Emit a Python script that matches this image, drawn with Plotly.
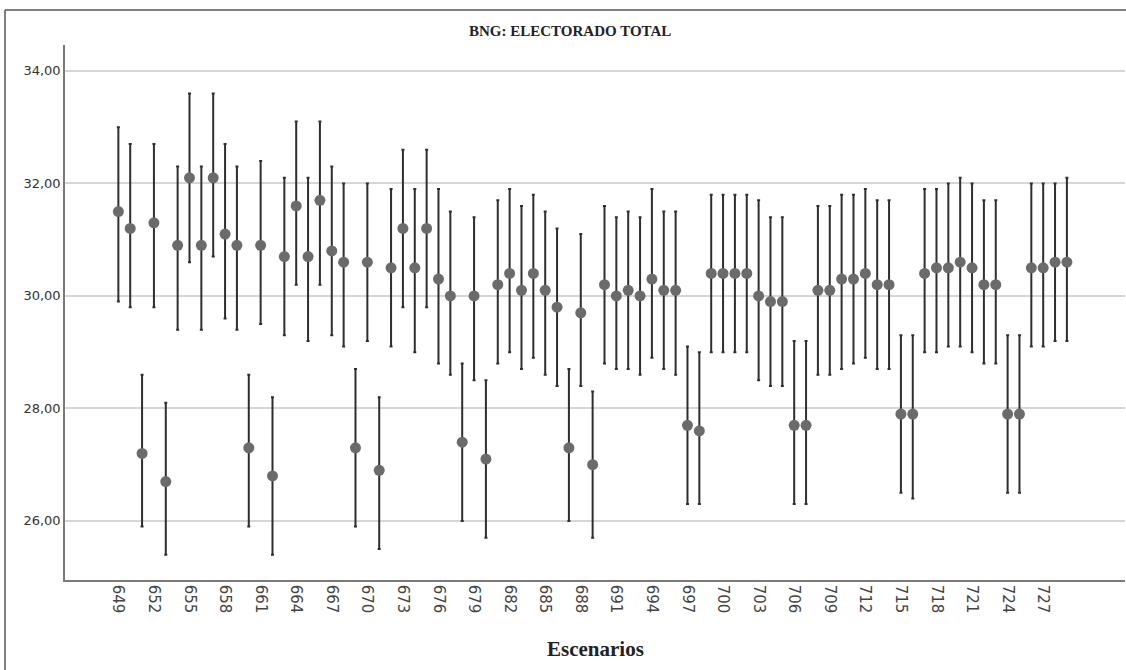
import plotly.graph_objects as go

scenarios = [649, 650, 651, 652, 653, 654, 655, 656, 657, 658,
             659, 660, 661, 662, 663, 664, 665, 666, 667, 668,
             669, 670, 671, 672, 673, 674, 675, 676, 677, 678,
             679, 680, 681, 682, 683, 684, 685, 686, 687, 688,
             689, 690, 691, 692, 693, 694, 695, 696, 697, 698,
             699, 700, 701, 702, 703, 704, 705, 706, 707, 708,
             709, 710, 711, 712, 713, 714, 715, 716, 717, 718,
             719, 720, 721, 722, 723, 724, 725, 726, 727, 728, 729]

mean = [31.5, 31.2, 27.2, 31.3, 26.7, 30.9, 32.1, 30.9, 32.1, 31.1,
        30.9, 27.3, 30.9, 26.8, 30.7, 31.6, 30.7, 31.7, 30.8, 30.6,
        27.3, 30.6, 26.9, 30.5, 31.2, 30.5, 31.2, 30.3, 30.0, 27.4,
        30.0, 27.1, 30.2, 30.4, 30.1, 30.4, 30.1, 29.8, 27.3, 29.7,
        27.0, 30.2, 30.0, 30.1, 30.0, 30.3, 30.1, 30.1, 27.7, 27.6,
        30.4, 30.4, 30.4, 30.4, 30.0, 29.9, 29.9, 27.7, 27.7, 30.1,
        30.1, 30.3, 30.3, 30.4, 30.2, 30.2, 27.9, 27.9, 30.4, 30.5,
        30.5, 30.6, 30.5, 30.2, 30.2, 27.9, 27.9, 30.5, 30.5, 30.6, 30.6]

upper = [33.0, 32.7, 28.6, 32.7, 28.1, 32.3, 33.6, 32.3, 33.6, 32.7,
         32.3, 28.6, 32.4, 28.2, 32.1, 33.1, 32.1, 33.1, 32.3, 32.0,
         28.7, 32.0, 28.2, 31.9, 32.6, 31.9, 32.6, 31.9, 31.5, 28.8,
         31.4, 28.5, 31.7, 31.9, 31.6, 31.8, 31.5, 31.2, 28.7, 31.1,
         28.3, 31.6, 31.4, 31.5, 31.4, 31.9, 31.5, 31.5, 29.1, 29.0,
         31.8, 31.8, 31.8, 31.8, 31.7, 31.4, 31.4, 29.2, 29.2, 31.6,
         31.6, 31.8, 31.8, 31.9, 31.7, 31.7, 29.3, 29.3, 31.9, 31.9,
         32.0, 32.1, 32.0, 31.7, 31.7, 29.3, 29.3, 32.0, 32.0, 32.0, 32.1]

lower = [29.9, 29.8, 25.9, 29.8, 25.4, 29.4, 30.6, 29.4, 30.7, 29.6,
         29.4, 25.9, 29.5, 25.4, 29.3, 30.2, 29.2, 30.2, 29.3, 29.1,
         25.9, 29.2, 25.5, 29.1, 29.8, 29.0, 29.8, 28.8, 28.6, 26.0,
         28.5, 25.7, 28.8, 29.0, 28.7, 28.9, 28.6, 28.4, 26.0, 28.4,
         25.7, 28.8, 28.7, 28.7, 28.6, 28.9, 28.7, 28.6, 26.3, 26.3,
         29.0, 29.0, 29.0, 29.0, 28.5, 28.4, 28.4, 26.3, 26.3, 28.6,
         28.6, 28.7, 28.8, 28.9, 28.7, 28.7, 26.5, 26.4, 29.0, 29.0,
         29.1, 29.1, 29.0, 28.8, 28.8, 26.5, 26.5, 29.1, 29.1, 29.2, 29.2]

x_tick_vals = [649, 652, 655, 658, 661, 664, 667, 670, 673, 676, 679, 682, 685,
               688, 691, 694, 697, 700, 703, 706, 709, 712, 715, 718, 721, 724, 727]
y_tick_vals = [26, 28, 30, 32, 34]
y_tick_text = ["26,00", "28,00", "30,00", "32,00", "34,00"]

err_plus = [u - m for u, m in zip(upper, mean)]
err_minus = [m - l for m, l in zip(mean, lower)]

fig = go.Figure()
fig.add_trace(go.Scatter(
    x=scenarios, y=mean, mode="markers",
    marker=dict(size=11, color="#6b6b6e", line=dict(width=0)),
    error_y=dict(type="data", symmetric=False, array=err_plus, arrayminus=err_minus,
                 color="#2e2e2e", thickness=2, width=1.5),
    showlegend=False, hoverinfo="x+y",
))

W, H = 1126, 670
L, R, T, B = 65, 1, 45, 90
pw, ph = W - L - R, H - T - B

def px(xp):
    return (xp - L) / pw

def py(yp):
    return (H - B - yp) / ph

fig.update_layout(
    width=W, height=H,
    margin=dict(l=L, r=R, t=T, b=B),
    paper_bgcolor="white", plot_bgcolor="white",
    xaxis=dict(range=[644.5, 733.9], tickmode="array", tickvals=x_tick_vals,
               ticktext=[str(v) for v in x_tick_vals], tickangle=90,
               showgrid=False, zeroline=False, showline=True, linecolor="#7a7a7a",
               linewidth=1.5, ticks="", ticklen=0,
               tickfont=dict(family="DejaVu Sans", size=15, color="#444444")),
    yaxis=dict(range=[24.95, 34.46], tickmode="array", tickvals=y_tick_vals,
               ticktext=y_tick_text, showgrid=True, gridcolor="#d6d6d6", gridwidth=2,
               zeroline=False, showline=True, linecolor="#7a7a7a", linewidth=1.5,
               ticks="", tickfont=dict(family="DejaVu Sans", size=13, color="#333333")),
    annotations=[
        dict(text="<b>BNG: ELECTORADO TOTAL</b>", xref="paper", yref="paper",
             x=px(570), y=py(31), xanchor="center", yanchor="middle", showarrow=False,
             font=dict(family="Liberation Serif", size=15, color="#222222")),
        dict(text="<b>Escenarios</b>", xref="paper", yref="paper",
             x=px(595), y=py(649), xanchor="center", yanchor="middle", showarrow=False,
             font=dict(family="Liberation Serif", size=21, color="#222222")),
    ],
    shapes=[
        dict(type="line", xref="paper", yref="paper", x0=px(5), x1=px(5),
             y0=py(10), y1=py(672), line=dict(color="#555555", width=1.5)),
        dict(type="line", xref="paper", yref="paper", x0=px(5), x1=px(1128),
             y0=py(10), y1=py(10), line=dict(color="#555555", width=1.5)),
    ],
)

fig.write_html(
    "out.html",
    config={"displayModeBar": False},
    post_script="document.body.style.margin='0';document.body.style.overflow='hidden';"
                "document.documentElement.style.overflow='hidden';",
)
